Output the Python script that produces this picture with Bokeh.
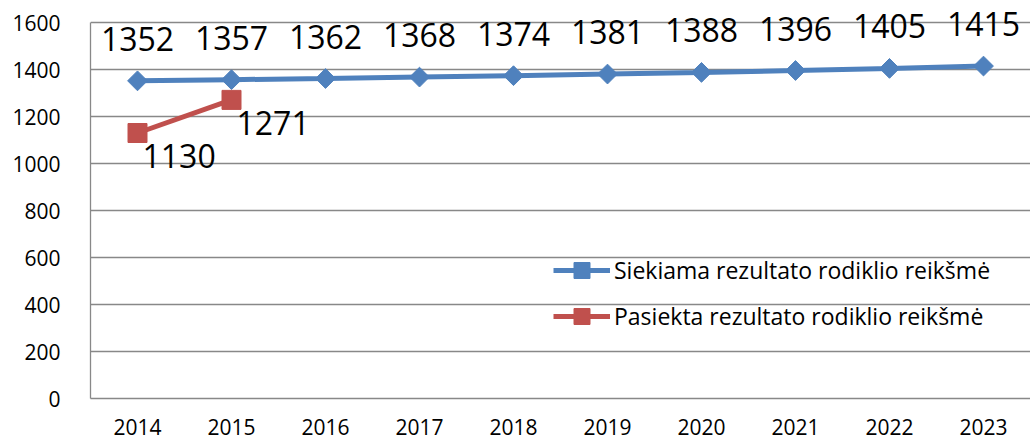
import math
from bokeh.plotting import figure
from bokeh.models import ColumnDataSource, Range1d, FactorRange, Label, Legend, LegendItem, FixedTicker
from bokeh.embed import file_html
from bokeh.resources import INLINE

years = ["2014", "2015", "2016", "2017", "2018", "2019", "2020", "2021", "2022", "2023"]
target = [1352, 1357, 1362, 1368, 1374, 1381, 1388, 1396, 1405, 1415]
achieved_years = ["2014", "2015"]
achieved = [1130, 1271]
y_ticks = [0, 200, 400, 600, 800, 1000, 1200, 1400, 1600]
name_target = "Siekiama rezultato rodiklio reikšmė"
name_achieved = "Pasiekta rezultato rodiklio reikšmė"

BLUE = "#4F81BD"
RED = "#C0504D"
GRID = "#888888"
FONT = "Open Sans"

src_t = ColumnDataSource(dict(x=years, y=target))
src_a = ColumnDataSource(dict(x=achieved_years, y=achieved))

# axis tops out at 1600; the extra head-room above it holds the data labels
p = figure(width=1030, height=442, output_backend="svg", toolbar_location=None,
           x_range=FactorRange(*years, range_padding=0), y_range=Range1d(0, 1694),
           min_border_left=90, min_border_top=0, min_border_bottom=44, min_border_right=0)
p.outline_line_color = None
p.background_fill_color = "white"

rt_line = p.line("x", "y", source=src_t, line_color=BLUE, line_width=5)
rt_mark = p.scatter("x", "y", source=src_t, marker="square", angle=math.pi / 4, size=14,
                    fill_color=BLUE, line_color=BLUE)
ra_line = p.line("x", "y", source=src_a, line_color=RED, line_width=5)
ra_mark = p.scatter("x", "y", source=src_a, marker="square", size=19, fill_color=RED, line_color=RED)

def cat_x(factor):
    # synthetic coordinate of a factor's centre on the FactorRange
    return years.index(factor) + 0.5

for xv, yv in zip(years, target):
    p.add_layout(Label(x=cat_x(xv), y=yv, text=str(yv), text_align="center", text_baseline="middle",
                       y_offset=42, text_font=FONT, text_font_size="32px",
                       text_color="black"))
for xv, yv in zip(achieved_years, achieved):
    p.add_layout(Label(x=cat_x(xv), y=yv, text=str(yv), text_align="left", text_baseline="middle",
                       x_offset=5, y_offset=-23, text_font=FONT, text_font_size="32px",
                       text_color="black"))

p.yaxis.ticker = FixedTicker(ticks=y_ticks)
p.yaxis.bounds = (0, 1600)
p.ygrid.ticker = FixedTicker(ticks=y_ticks)
p.ygrid.grid_line_color = GRID
p.ygrid.grid_line_width = 1.3
p.xgrid.grid_line_color = None

for ax in (p.xaxis, p.yaxis):
    ax.axis_line_color = GRID
    ax.axis_line_width = 1.3
    ax.major_tick_line_color = None
    ax.minor_tick_line_color = None
    ax.major_label_text_font = FONT
    ax.major_label_text_font_size = "21px"
    ax.major_label_text_color = "black"
p.yaxis.major_label_standoff = 24
p.xaxis.major_label_standoff = 14

legend = Legend(items=[LegendItem(label=name_target, renderers=[rt_line, rt_mark]),
                       LegendItem(label=name_achieved, renderers=[ra_line, ra_mark])],
                location=(463, 62), padding=0, margin=0, spacing=6,
                glyph_width=57, glyph_height=40, label_height=40, label_standoff=4,
                label_text_font=FONT, label_text_font_size="23px", label_text_color="black",
                background_fill_alpha=0, border_line_alpha=0)
p.add_layout(legend)

open("out.html", "w").write(file_html(p, INLINE))
